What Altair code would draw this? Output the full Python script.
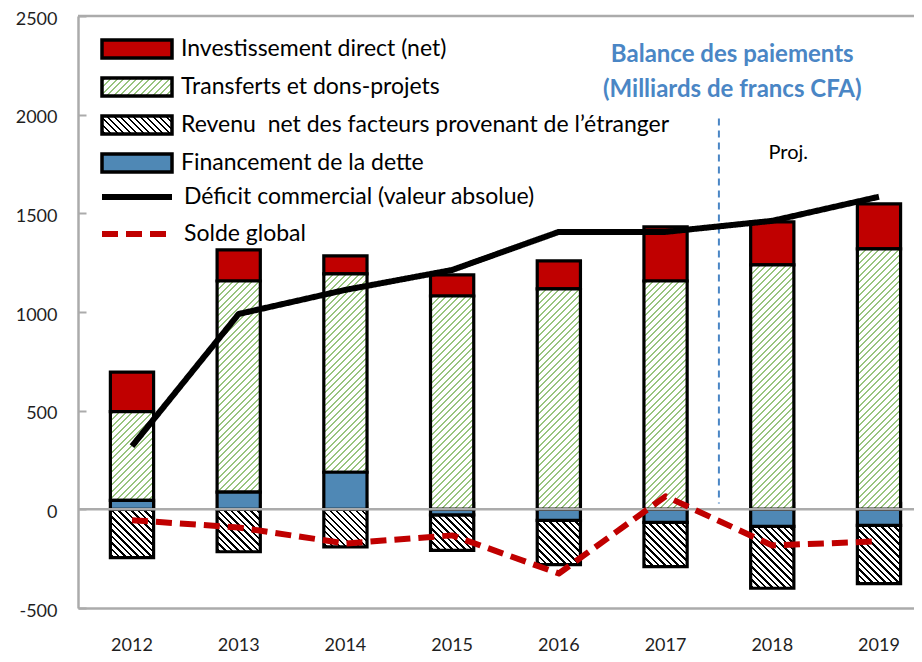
import json
import altair as alt
import pandas as pd

# ---------------- données ----------------
annees = ["2012", "2013", "2014", "2015", "2016", "2017", "2018", "2019"]
investissement = [200, 158, 91, 107, 142, 274, 218, 228]
transferts = [450, 1070, 1005, 1081, 1117, 1157, 1239, 1320]
revenu = [-245, -215, -190, -180, -224, -224, -314, -295]
financement = [45, 87, 188, -28, -56, -66, -86, -81]
deficit = [320, 990, 1112, 1213, 1406, 1406, 1462, 1584]
solde = [-55, -92, -173, -132, -325, 66, -183, -162]

series_barres = [
    "Investissement direct (net)",
    "Transferts et dons-projets",
    "Revenu\u00a0 net des facteurs provenant de l\u2019étranger",
    "Financement de la dette",
]
series_lignes = ["Déficit commercial (valeur absolue)", "Solde global"]
y_ticks = [-500, 0, 500, 1000, 1500, 2000, 2500]
titre = ["Balance des paiements", "(Milliards de francs CFA)"]
note_proj = ["Proj."]

# ---------------- mise en page / styles ----------------
W, H = 836, 592
Y_MIN, Y_MAX = -500, 2500
PI, PO, ALIGN = 0.595, 0.2146, 0.707
STEP = W / (len(annees) - PI + 2 * PO)
BW = (1 - PI) * STEP
PXU = H / (Y_MAX - Y_MIN)

FONT = "Lato, Open Sans, sans-serif"
RED = "#c00000"
BLUE = "#4f88b5"
GREEN = "#98c47e"
GRAY = "#ababab"
TXT = "#1f1f1f"
TITLE_BLUE = "#4a86c5"


def r(v):
    return round(v, 5)


def hachures(w, h, sens, couleur, periode, epaisseur):
    L = w + h
    c = L / (w * w + h * h)
    if sens == "/":
        x1, y1, x2, y2 = 0, 0, w * c, h * c
    else:
        x1, y1, x2, y2 = 0, 1, w * c, 1 - h * c
    stops = [{"offset": 0, "color": "#ffffff"}]
    k = 0
    while True:
        a = (k * periode + periode / 2 - epaisseur / 2) / L
        b = (k * periode + periode / 2 + epaisseur / 2) / L
        if a >= 1:
            break
        b = min(b, 1)
        stops += [
            {"offset": r(a), "color": "#ffffff"},
            {"offset": r(a), "color": couleur},
            {"offset": r(b), "color": couleur},
            {"offset": r(b), "color": "#ffffff"},
        ]
        k += 1
    stops.append({"offset": 1, "color": "#ffffff"})
    return {"gradient": "linear", "x1": x1, "y1": r(y1), "x2": r(x2), "y2": r(y2), "stops": stops}


# ---------------- tables ----------------
ordres = [3, 1, 2, 0]
valeurs = [investissement, transferts, revenu, financement]
rows = []
for i, a in enumerate(annees):
    for s, vals, o in zip(series_barres, valeurs, ordres):
        rows.append({"annee": a, "serie": s, "valeur": vals[i], "ordre": o})
df_barres = pd.DataFrame(rows)

lrows = []
for nom, vals in zip(series_lignes, [deficit, solde]):
    for i, a in enumerate(annees):
        lrows.append({"annee": a, "ligne": nom, "valeur": vals[i]})
df_lignes = pd.DataFrame(lrows)

# ---------------- échelles ----------------
xscale = alt.Scale(domain=annees, paddingInner=PI, paddingOuter=PO, align=ALIGN)
yscale = alt.Scale(domain=[Y_MIN, Y_MAX], nice=False)

# conditions de hachures par segment
conds = []
for i, a in enumerate(annees):
    conds.append({
        "test": f"datum.annee === '{a}' && datum.ordre === 1",
        "value": hachures(BW, abs(transferts[i]) * PXU, "/", GREEN, 6.5, 2.0),
    })
    conds.append({
        "test": f"datum.annee === '{a}' && datum.ordre === 2",
        "value": hachures(BW, abs(revenu[i]) * PXU, "\\", "#000000", 6.5, 2.4),
    })

leg_tra = json.dumps(hachures(70, 18, "/", GREEN, 6.5, 2.0))
leg_rev = json.dumps(hachures(70, 18, "\\", "#000000", 6.5, 2.4))

RECT_PATH = "M-3.5,-0.9L3.5,-0.9L3.5,0.9L-3.5,0.9Z"
LINE_PATH = "M-3.5,0L3.5,0"

legende_barres = alt.Legend(
    title=None, orient="none", legendX=24, legendY=21,
    symbolType=RECT_PATH, symbolSize=400, symbolOffset=23,
    symbolStrokeColor="#000000", symbolStrokeWidth=3.5,
    labelOffset=32, labelFont=FONT, labelFontSize=23, labelColor="#000000",
    labelLimit=900, rowPadding=6, padding=0, labelExpr="datum.label + '\u00a0'",
)
legende_lignes = alt.Legend(
    title=None, orient="none", legendX=24, legendY=168,
    symbolType=LINE_PATH, symbolSize=400, symbolOffset=22, symbolStrokeWidth=6,
    labelOffset=34, labelFont=FONT, labelFontSize=23, labelColor="#000000",
    labelLimit=900, rowPadding=12, padding=0,
)

barres = alt.Chart(df_barres).mark_bar(stroke="black", strokeWidth=3.2).encode(
    x=alt.X("annee:N", scale=xscale, sort=annees, axis=alt.Axis(
        orient="bottom", title=None, labelFont=FONT, labelFontSize=18,
        labelColor=TXT, labelPadding=28, labelAngle=0, ticks=False,
        domain=True, domainColor=GRAY, domainWidth=2.5, grid=False)),
    y=alt.Y("valeur:Q", scale=yscale, stack="zero", axis=alt.Axis(
        orient="left", values=y_ticks, title=None, labelFont=FONT,
        labelFontSize=18, labelColor=TXT, labelPadding=21, labelOffset=3, ticks=False,
        domainColor=GRAY, domainWidth=2.5, grid=False,
        labelExpr="'' + datum.value")),
    fill=alt.Fill("serie:N", scale=alt.Scale(
        domain=series_barres,
        range=[RED, {"expr": leg_tra}, {"expr": leg_rev}, BLUE]),
        legend=legende_barres, condition=conds),
    order=alt.Order("ordre:Q"),
)

zero = alt.Chart(pd.DataFrame({"y": [0]})).mark_rule(color=GRAY, strokeWidth=2.5).encode(
    y=alt.Y("y:Q", scale=yscale, axis=None))
cadre_haut = alt.Chart(pd.DataFrame({"y": [Y_MAX]})).mark_rule(color=GRAY, strokeWidth=2.5).encode(
    y=alt.Y("y:Q", scale=yscale, axis=None))

lignes = alt.Chart(df_lignes).mark_line(strokeWidth=6, strokeJoin="round").encode(
    x=alt.X("annee:N", scale=xscale, sort=annees, axis=alt.Axis(
        orient="top", offset=-(H * Y_MAX / (Y_MAX - Y_MIN)), labels=False,
        domain=False, ticks=True, tickBand="extent", tickSize=8,
        tickColor=GRAY, tickWidth=2, title=None, grid=False)),
    y=alt.Y("valeur:Q", scale=yscale, axis=alt.Axis(
        orient="right", offset=-W, values=y_ticks, labels=False, domain=False,
        ticks=True, tickSize=8, tickColor=GRAY, tickWidth=2, grid=False, title=None)),
    stroke=alt.Stroke("ligne:N", scale=alt.Scale(domain=series_lignes, range=["#000000", RED]),
                      legend=legende_lignes),
    strokeDash=alt.StrokeDash("ligne:N", scale=alt.Scale(domain=series_lignes, range=[[1, 0], [16, 8]]),
                              legend=legende_lignes),
)

# séparateur : début de la bande 2018 moins la moitié de l'espace inter-bandes
sep = alt.Chart(pd.DataFrame({"annee": ["2018"], "y": [1980], "y2": [30]})).mark_rule(
    color=TITLE_BLUE, strokeWidth=2, strokeDash=[7, 5]).encode(
    x=alt.X("annee:N", scale=xscale, bandPosition=0, axis=None),
    xOffset=alt.value(-(STEP - BW) / 2),
    y=alt.Y("y:Q", scale=yscale, axis=None),
    y2="y2:Q",
)

titre_txt = alt.Chart(pd.DataFrame({"annee": ["2018"], "y": [2300]})).mark_text(
    font=FONT, fontSize=24, fontWeight="bold", color=TITLE_BLUE, lineHeight=35,
    align="center", baseline="middle", dx=-40).encode(
    x=alt.X("annee:N", scale=xscale, axis=None),
    y=alt.Y("y:Q", scale=yscale, axis=None),
    text=alt.value(titre),
)

proj_txt = alt.Chart(pd.DataFrame({"annee": ["2018"], "y": [1806], "t": note_proj})).mark_text(
    font=FONT, fontSize=20, color="#000000", align="center", baseline="middle", dx=16).encode(
    x=alt.X("annee:N", scale=xscale, axis=None),
    y=alt.Y("y:Q", scale=yscale, axis=None),
    text="t:N",
)

chart = alt.layer(cadre_haut, barres, zero, sep, lignes, titre_txt, proj_txt).resolve_axis(
    x="independent", y="independent"
).properties(
    width=W, height=H,
    autosize=alt.AutoSizeParams(type="none"),
    padding={"left": 70, "top": 8, "right": 0, "bottom": 48},
).configure_view(stroke=None).configure(background="white")

chart.save("out.html", embed_options={"renderer": "svg", "actions": False})
